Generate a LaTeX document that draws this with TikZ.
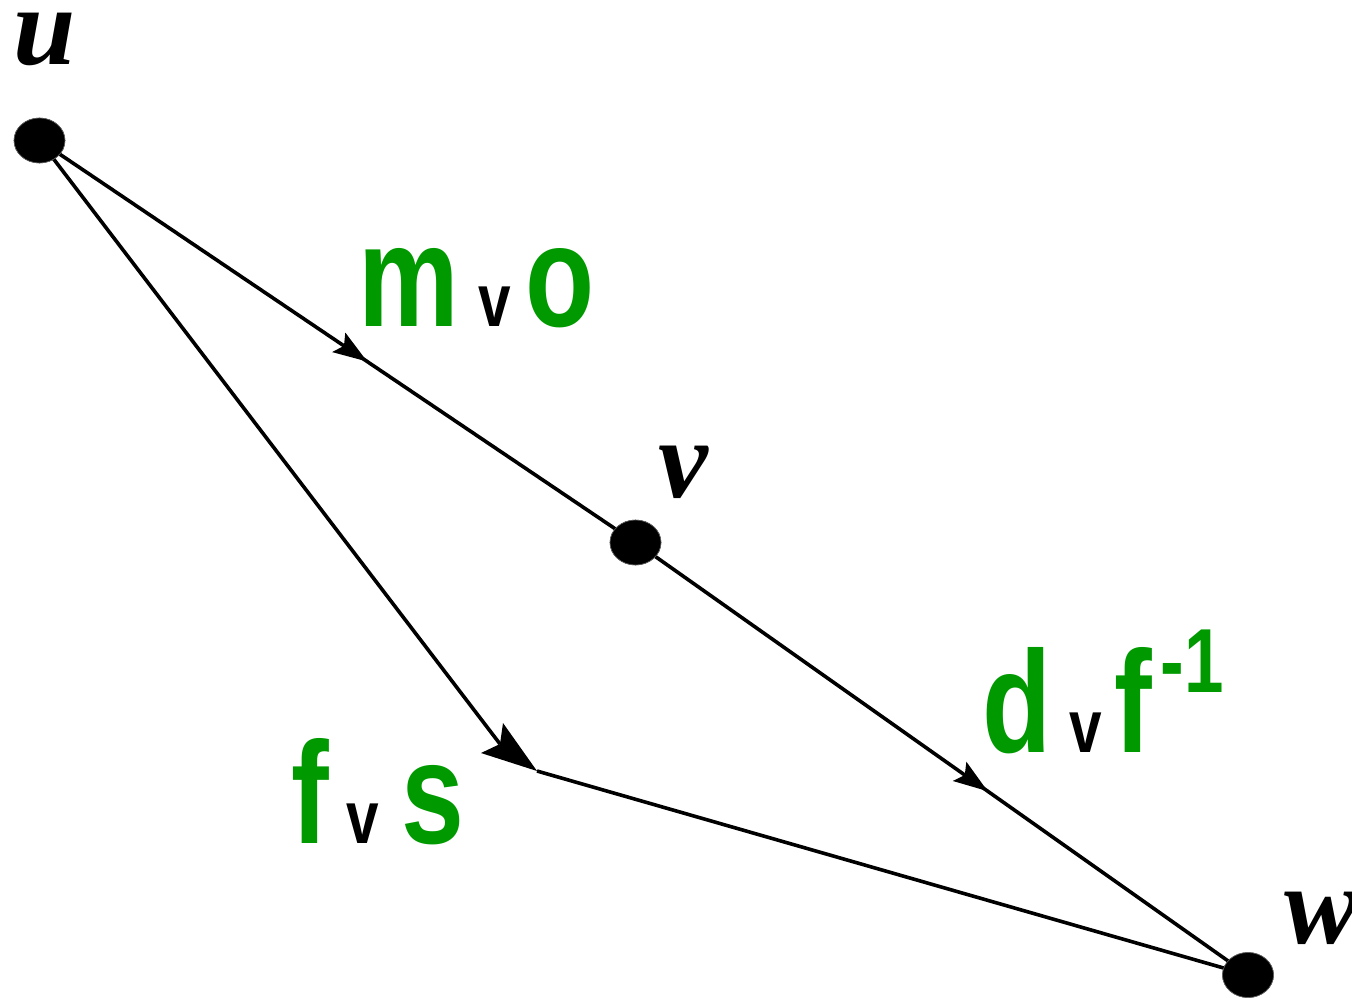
\documentclass[tikz,border=0pt]{standalone}
\usepackage{fontspec}
\usetikzlibrary{arrows.meta,shapes.geometric,decorations.markings}
\newfontfamily\lblfont[FakeStretch=0.78]{Liberation Sans Bold}
\newfontfamily\ptfont{Liberation Serif Bold Italic}
\definecolor{lblgreen}{RGB}{0,153,0}
\tikzset{
  dot/.style={ellipse,fill=black,draw=black!60,line width=0.6pt,minimum width=51pt,minimum height=45pt,inner sep=0pt},
  ptlabel/.style={anchor=base west,inner sep=0pt,font=\ptfont\fontsize{112}{112}\selectfont},
  lbl/.style={anchor=base west,inner sep=0pt,text=lblgreen,font=\lblfont\fontsize{145}{145}\selectfont},
  edge/.style={line width=3.6pt},
  midarrow/.style={postaction={decorate},decoration={markings,mark=at position #1 with {\arrow{Stealth[length=34pt,width=23pt,inset=6pt]}}}}
}
\newcommand{\orv}{{\fontsize{75}{75}\selectfont\color{black}v}}
\begin{document}
\begin{tikzpicture}[x=1pt,y=-1pt]
\useasboundingbox (0,0) rectangle (1352,997);
\node[dot] (u) at (39.5,140.5) {};
\node[dot] (v) at (635.5,542.5) {};
\node[dot] (w) at (1248,975) {};
\coordinate (k) at (537,771);
\coordinate (n) at (500,744);
\draw[edge,midarrow=0.55] (u.center) -- (v.center);
\draw[edge,midarrow=0.575] (v.center) -- (w.center);
\draw[edge] (u.center) -- (n);
\draw[edge] (k) -- (w.center);
\fill (k) -- ++(-56,-18) -- ++(19,-9) -- ++(3,-21) -- cycle;
\node[dot] at (u) {};
\node[dot] at (v) {};
\node[dot] at (w) {};
\node[ptlabel] (ul) at (13,64) {u};
\node[ptlabel] (vl) at (658,497) {v};
\node[ptlabel] (wl) at (1284,943) {w};
\node[lbl] (l1) at (358,326) {m\hspace{20pt}\orv\hspace{14pt}o};
\node[lbl] (l2) at (982,752) {d\hspace{18pt}\orv\hspace{13pt}f\hspace{8pt}\raisebox{60pt}{\fontsize{91}{91}\selectfont -1}};
\node[lbl] (l3) at (291,843) {f\hspace{18pt}\orv\hspace{22pt}s};
\end{tikzpicture}
\end{document}
